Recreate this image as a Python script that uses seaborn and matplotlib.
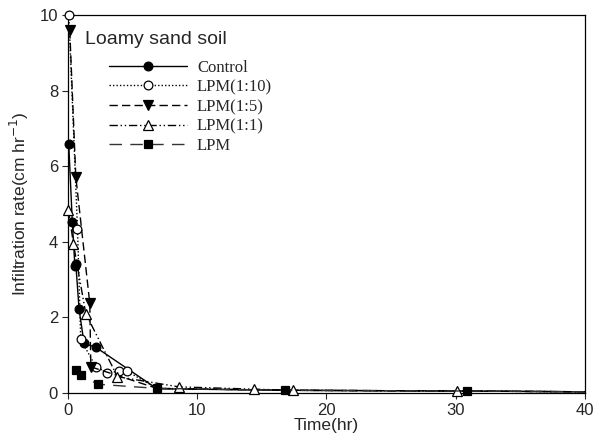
import numpy as np
import pandas as pd
import matplotlib
matplotlib.use("Agg")
import matplotlib.pyplot as plt
import seaborn as sns
from matplotlib.lines import Line2D

# Data (time in hr, infiltration rate in cm/hr)
control_t = [0.07, 0.35, 0.55, 0.62, 0.87, 1.26, 2.16, 6.9, 16.8, 30.9, 40]
control_y = [6.6, 4.52, 3.35, 3.42, 2.22, 1.31, 1.21, 0.11, 0.07, 0.05, 0.03]

lpm110_t = [0.08, 0.75, 1.0, 2.17, 3.07, 3.97, 4.6, 6.9, 16.8, 30.9, 40]
lpm110_y = [10.0, 4.35, 1.42, 0.69, 0.54, 0.57, 0.57, 0.12, 0.07, 0.05, 0.03]

lpm15_t = [0.15, 0.62, 1.7, 1.78, 6.9, 16.8, 30.9, 40]
lpm15_y = [9.6, 5.72, 2.37, 0.69, 0.12, 0.07, 0.05, 0.03]

lpm11_t = [0.05, 0.44, 1.39, 3.84, 8.6, 14.4, 17.4, 30.1, 40]
lpm11_y = [4.84, 3.94, 2.1, 0.43, 0.16, 0.1, 0.07, 0.05, 0.03]

lpm_t = [0.62, 1.0, 2.3, 6.9, 16.8, 30.9, 40]
lpm_y = [0.6, 0.48, 0.23, 0.12, 0.07, 0.05, 0.03]

# number of leading points that carry a visible marker
marked_counts = [7, 7, 4, 8, 6]

series_names = ["Control", "LPM(1:10)", "LPM(1:5)", "LPM(1:1)", "LPM"]
x_ticks = [0, 10, 20, 30, 40]
y_ticks = [0, 2, 4, 6, 8, 10]

sns.set_theme(style="ticks")
plt.rcParams['font.family'] = ['Liberation Sans', 'DejaVu Sans']

fig = plt.figure(figsize=(6.0, 4.46), dpi=100)
ax = fig.add_axes([0.113, 0.119, 0.862, 0.847])

styles = [
    dict(marker='o', mfc='black', mec='black', color='black', dashes=None, ms=6.3),
    dict(marker='o', mfc='white', mec='black', color='black', dashes=(1, 1.5), ms=6.3),
    dict(marker='v', mfc='black', mec='black', color='black', dashes=(6, 3), ms=6.8),
    dict(marker='^', mfc='white', mec='black', color='black', dashes=(6, 2, 1, 2, 1, 2), ms=6.8),
    dict(marker='s', mfc='black', mec='black', color='#333333', dashes=(9, 6), ms=5.8),
]
data = [(control_t, control_y), (lpm110_t, lpm110_y), (lpm15_t, lpm15_y),
        (lpm11_t, lpm11_y), (lpm_t, lpm_y)]

handles = []
for i, ((t, y), name, st, nm) in enumerate(zip(data, series_names, styles, marked_counts)):
    df = pd.DataFrame({"t": t, "y": y})
    kw = dict(marker=st['marker'], markersize=st['ms'],
              markerfacecolor=st['mfc'], markeredgecolor=st['mec'], markeredgewidth=0.9,
              color=st['color'], linewidth=1.0, zorder=3 + i, clip_on=False,
              markevery=list(range(nm)))
    sns.lineplot(data=df, x="t", y="y", ax=ax, sort=False, estimator=None, **kw)
    line = ax.lines[-1]
    if st['dashes'] is not None:
        line.set_dashes(st['dashes'])
    h = Line2D([0], [0], marker=st['marker'], markersize=st['ms'],
               markerfacecolor=st['mfc'], markeredgecolor=st['mec'], markeredgewidth=0.9,
               color=st['color'], linewidth=1.0)
    if st['dashes'] is not None:
        h.set_dashes(st['dashes'])
    handles.append(h)

ax.set_xlim(0, 40)
ax.set_ylim(0, 10)
ax.set_xticks(x_ticks)
ax.set_yticks(y_ticks)
ax.set_xlabel("Time(hr)", fontsize=12.5, labelpad=0)
ax.set_ylabel("Infiltration rate(cm hr$^{-1}$)", fontsize=12.5, labelpad=6)
ax.tick_params(axis='both', direction='out', length=4, width=0.8, labelsize=12, pad=3)
for s in ax.spines.values():
    s.set_visible(True)
    s.set_linewidth(0.9)
    s.set_color('black')

ax.text(1.3, 9.35, "Loamy sand soil", fontsize=14, ha='left', va='center')

leg = ax.legend(handles, series_names, loc='upper left', bbox_to_anchor=(0.066, 0.9),
                frameon=False, handlelength=4.7, handletextpad=0.6, labelspacing=0.22,
                prop={'family': 'Liberation Serif', 'size': 12}, borderaxespad=0)

fig.savefig("out.png", dpi=100)
